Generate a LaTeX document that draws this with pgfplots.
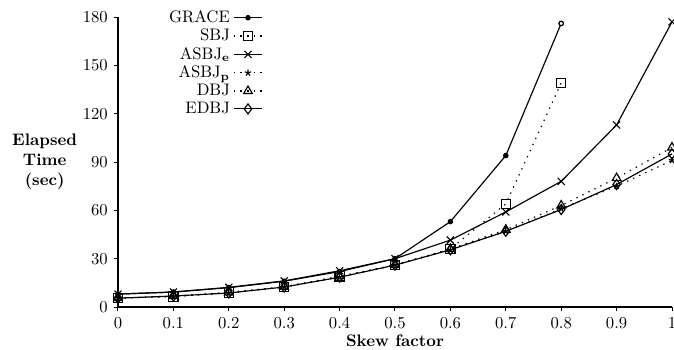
\documentclass[border=0pt]{standalone}
\usepackage{pgfplots}
\pgfplotsset{compat=1.18}
\begin{document}
\begin{tikzpicture}
\begin{axis}[
  scale only axis, width=332.4pt, height=174pt,
  xmin=0, xmax=1, ymin=0, ymax=180,
  axis x line*=bottom, axis y line*=left,
  axis line style={line width=0.8pt},
  xtick={0,0.1,0.2,0.3,0.4,0.5,0.6,0.7,0.8,0.9,1},
  xticklabels={0,0.1,0.2,0.3,0.4,0.5,0.6,0.7,0.8,0.9,1},
  ytick={0,30,60,90,120,150,180},
  tick align=outside, major tick length=2.6pt,
  tick style={black, line width=0.6pt},
  xlabel={\bfseries Skew factor},
  xlabel style={at={(rel axis cs:0.5,0)}, anchor=center, yshift=-20pt},
  xticklabel style={yshift=0pt},
  clip=false,
  legend style={draw=none, fill=none, at={(rel axis cs:0.262,1.035)}, anchor=north east,
    inner sep=0pt, row sep=-1.6pt, font=\normalsize},
  legend cell align=right, legend plot pos=right,
  every axis plot/.append style={black, line width=0.7pt},
]
\coordinate (O) at (rel axis cs:0,0);
\addplot[mark=*, mark size=1.3pt] coordinates {(0,8) (0.1,9.3) (0.2,12) (0.3,16) (0.4,22) (0.5,30) (0.6,53) (0.7,94) (0.8,176)};
\addlegendentry{GRACE}
\addplot[dash pattern=on 0.8pt off 3.2pt, mark=square, mark size=2.8pt, mark options={solid}] coordinates {(0,5.5) (0.1,6.5) (0.2,9) (0.3,12.5) (0.4,19) (0.5,26) (0.6,36) (0.7,64) (0.8,139)};
\addlegendentry{SBJ}
\addplot[mark=x, mark size=3pt, mark options={solid}] coordinates {(0,8) (0.1,9.3) (0.2,12.2) (0.3,16.2) (0.4,22.5) (0.5,30) (0.6,41.5) (0.7,59) (0.8,78) (0.9,113) (1,177)};
\addlegendentry{ASBJ$_{\mathbf{e}}$}
\addplot[dash pattern=on 0.8pt off 3.2pt, mark=star, mark size=2pt, mark options={solid}] coordinates {(0,5.5) (0.1,6.5) (0.2,8.7) (0.3,12.4) (0.4,18.5) (0.5,26) (0.6,35.5) (0.7,47) (0.8,61) (0.9,75) (1,91)};
\addlegendentry{ASBJ$_{\mathbf{p}}$}
\addplot[dash pattern=on 0.8pt off 3.2pt, mark=triangle, mark size=3pt, mark options={solid}] coordinates {(0,5.5) (0.1,6.8) (0.2,9) (0.3,12.5) (0.4,19) (0.5,26) (0.6,36) (0.7,48) (0.8,63) (0.9,80) (1,99)};
\addlegendentry{DBJ}
\addplot[mark=diamond, mark size=3pt, mark options={solid}] coordinates {(0,5.5) (0.1,6.8) (0.2,8.7) (0.3,12.4) (0.4,18.5) (0.5,26) (0.6,35.5) (0.7,47) (0.8,60.5) (0.9,76) (1,95)};
\addlegendentry{EDBJ}
\addplot[forget plot, only marks, mark=*, mark size=1.3pt, mark options={fill=white}] coordinates {(0.8,176)};
\node[align=center, font=\bfseries, inner sep=0pt] at ([xshift=-44pt, yshift=87pt]O) {Elapsed\\Time\\(sec)};
\end{axis}
\pgfresetboundingbox
\path ([xshift=-70.8pt,yshift=-25.2pt]O) rectangle ([xshift=333.6pt,yshift=184.2pt]O);
\end{tikzpicture}
\end{document}
